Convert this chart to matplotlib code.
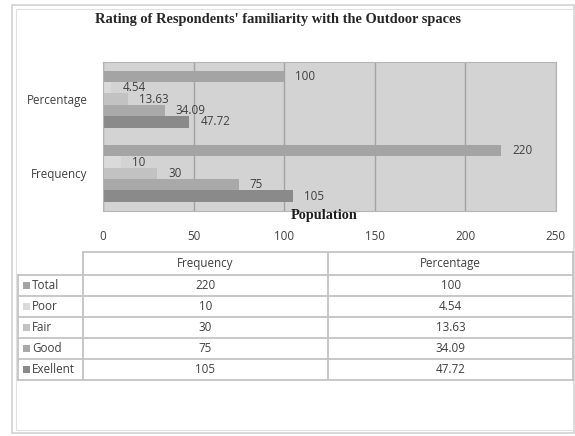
import matplotlib.pyplot as plt
from matplotlib.patches import Rectangle

# data
categories = ['Frequency', 'Percentage']
series = ['Total', 'Poor', 'Fair', 'Good', 'Exellent']
frequency = [220, 10, 30, 75, 105]
percentage = [100, 4.54, 13.63, 34.09, 47.72]
xticks = [0, 50, 100, 150, 200, 250]

colors = ['#a4a4a4', '#dadada', '#c2c2c2', '#a9a9a9', '#8a8a8a']
txt = '#404040'
font = 'Open Sans'
fs = 8.4

W, H = 575, 436
fig = plt.figure(figsize=(W / 100, H / 100), dpi=100)

# background overlay in pixel coordinates (frame + table)
bg = fig.add_axes([0, 0, 1, 1], zorder=0)
bg.set_xlim(0, W)
bg.set_ylim(H, 0)
bg.axis('off')
bg.add_patch(Rectangle((12, 5), 562, 428, fill=False, ec='#d2d2d2', lw=1.2))
bg.add_patch(Rectangle((16, 9), 557, 421, fill=False, ec='#e0e0e0', lw=0.8))

# chart
ax = fig.add_axes([103 / W, 1 - 210.5 / H, 452.5 / W, 148.5 / H], zorder=2)
ax.set_facecolor('#d3d3d3')
ax.set_xlim(0, 250)
ax.set_ylim(-0.5, 1.5)
ax.set_axisbelow(True)
ax.grid(axis='x', color='#a2a2a2', lw=1)
for s in ax.spines.values():
    s.set_color('#b4b4b4')

h = 0.153
n = len(series)
for i, name in enumerate(series):
    vals = [frequency[i], percentage[i]]
    off = (n - 1 - i - (n - 1) / 2) * h
    pos = [c + off for c in range(len(categories))]
    bars = ax.barh(pos, vals, height=h, color=colors[i], lw=0)
    ax.bar_label(bars, labels=[f'{v:g}' for v in vals], padding=8,
                 fontsize=fs, color=txt, family=font)

ax.set_yticks(range(len(categories)))
ax.set_yticklabels(categories, fontsize=fs, color=txt, family=font)
ax.set_xticks(xticks)
ax.set_xticklabels([str(t) for t in xticks], fontsize=fs, color=txt, family=font)
ax.tick_params(length=0)
ax.tick_params(axis='y', pad=11)
ax.tick_params(axis='x', pad=14)
ax.text(0.488, -0.035, 'Population', transform=ax.transAxes, ha='center', va='center',
        fontsize=10.3, fontweight='bold', family='Liberation Serif', color='#1e1e1e')

fig.text(278 / W, 1 - 20 / H, "Rating of Respondents' familiarity with the Outdoor spaces",
         ha='center', va='center', fontsize=10.4, fontweight='bold',
         family='Liberation Serif', color='#262626')

# data table
lc = '#c4c4c4'
x0, x1, x2, x3 = 18.3, 82.7, 328, 573.3
ys = [252.3, 275.3, 296.3, 317.3, 338.3, 359.3, 380.3]
bg.plot([x1, x3], [ys[0], ys[0]], color=lc, lw=1.3)
bg.plot([x1, x1], [ys[0], ys[1]], color=lc, lw=1.3)
for y in ys[1:]:
    bg.plot([x0, x3], [y, y], color=lc, lw=1.3)
for x in [x0, x1]:
    bg.plot([x, x], [ys[1], ys[-1]], color=lc, lw=1.3)
bg.plot([x2, x2], [ys[0], ys[-1]], color=lc, lw=1.3)
bg.plot([x3, x3], [ys[0], ys[-1]], color=lc, lw=1.3)

bg.text((x1 + x2) / 2, (ys[0] + ys[1]) / 2, categories[0], ha='center', va='center',
        fontsize=fs, color=txt, family=font)
bg.text((x2 + x3) / 2, (ys[0] + ys[1]) / 2, categories[1], ha='center', va='center',
        fontsize=fs, color=txt, family=font)
for i, name in enumerate(series):
    yc = (ys[i + 1] + ys[i + 2]) / 2
    bg.add_patch(Rectangle((x0 + 5, yc - 3.5), 7, 7, color=colors[i], lw=0))
    bg.text(x0 + 14, yc, name, ha='left', va='center', fontsize=fs, color=txt, family=font)
    bg.text((x1 + x2) / 2, yc, f'{frequency[i]:g}', ha='center', va='center',
            fontsize=fs, color=txt, family=font)
    bg.text((x2 + x3) / 2, yc, f'{percentage[i]:g}', ha='center', va='center',
            fontsize=fs, color=txt, family=font)

fig.savefig('out.png', dpi=100)
